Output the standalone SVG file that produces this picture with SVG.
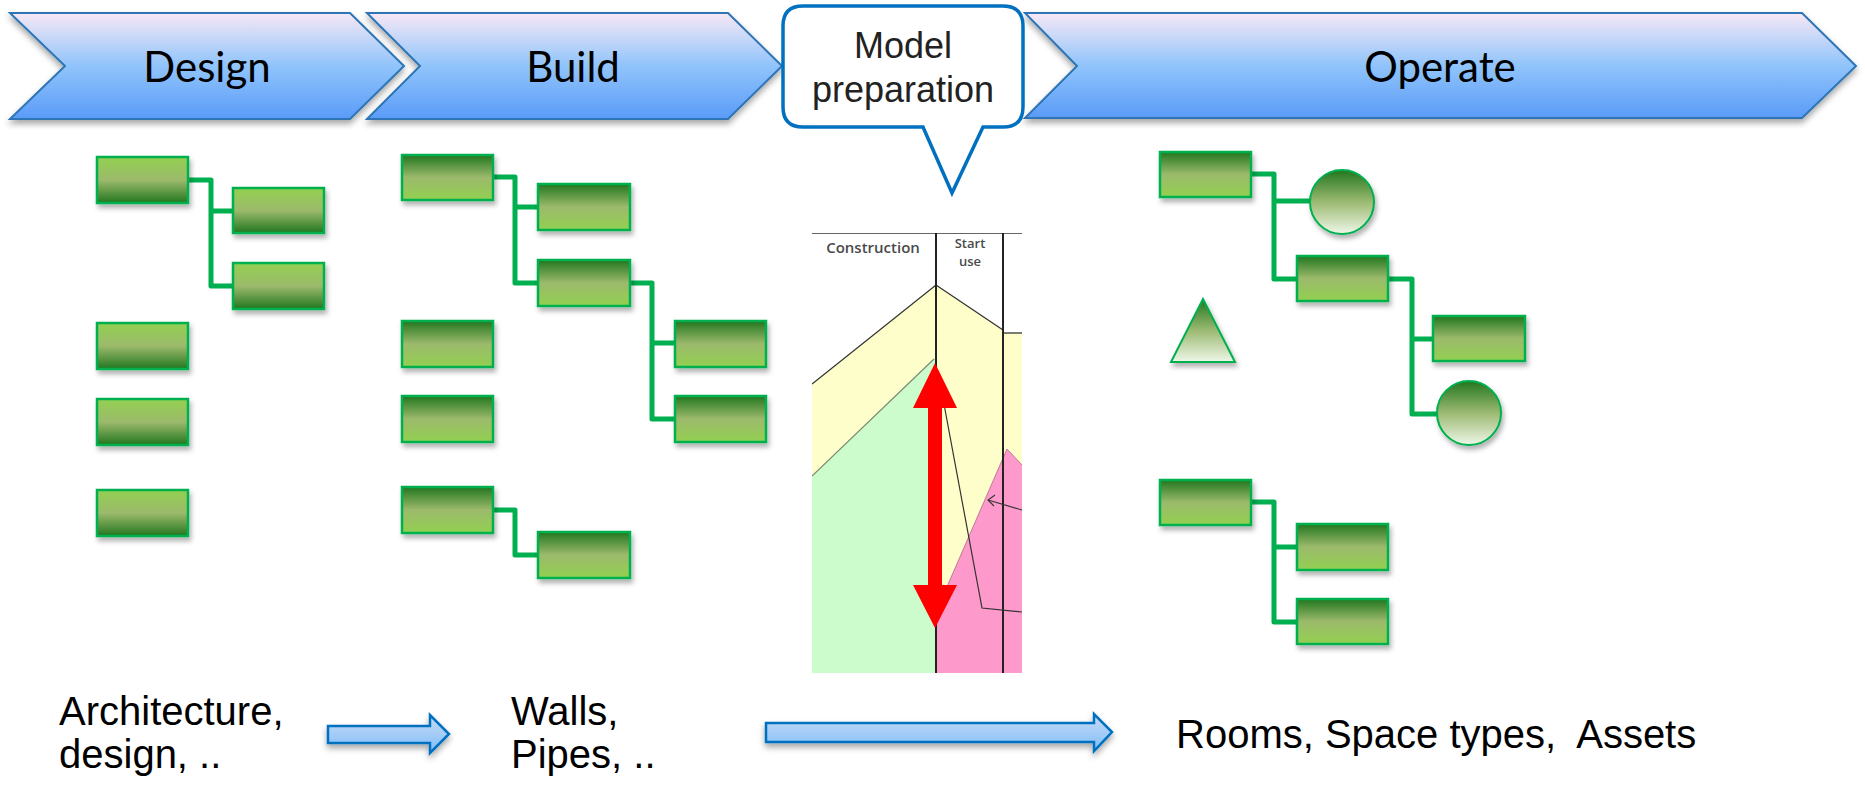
<svg xmlns="http://www.w3.org/2000/svg" width="1865" height="789" viewBox="0 0 1865 789">
<defs>
  <linearGradient id="chev" x1="0" y1="0" x2="0" y2="1">
    <stop offset="0" stop-color="#f7e8f6"/>
    <stop offset="0.5" stop-color="#90c4fb"/>
    <stop offset="1" stop-color="#5a9bf8"/>
  </linearGradient>
  <linearGradient id="arrowFill" x1="0" y1="0" x2="0" y2="1">
    <stop offset="0" stop-color="#c9dcf3"/>
    <stop offset="1" stop-color="#7fbdfb"/>
  </linearGradient>
  <linearGradient id="gUp" x1="0" y1="0" x2="0" y2="1">
    <stop offset="0" stop-color="#92d050"/>
    <stop offset="0.5" stop-color="#9cba6c"/>
    <stop offset="1" stop-color="#22761f"/>
  </linearGradient>
  <linearGradient id="gDown" x1="0" y1="0" x2="0" y2="1">
    <stop offset="0" stop-color="#22761f"/>
    <stop offset="0.5" stop-color="#9cba6c"/>
    <stop offset="1" stop-color="#92d050"/>
  </linearGradient>
  <linearGradient id="gFade" x1="0" y1="0" x2="0" y2="1">
    <stop offset="0" stop-color="#22761f"/>
    <stop offset="0.5" stop-color="#9cba72"/>
    <stop offset="1" stop-color="#eef7e8"/>
  </linearGradient>
  <filter id="shadow" x="-10%" y="-20%" width="120%" height="150%">
    <feDropShadow dx="0" dy="4" stdDeviation="3" flood-color="#000" flood-opacity="0.35"/>
  </filter>
  <filter id="bshadow" x="-10%" y="-20%" width="130%" height="160%">
    <feDropShadow dx="2" dy="4" stdDeviation="2.5" flood-color="#000" flood-opacity="0.3"/>
  </filter>
  <clipPath id="chartClip"><rect x="812" y="233" width="210" height="440"/></clipPath>
</defs>
<style>
  .chev { fill: url(#chev); stroke: #2e75b6; stroke-width: 2; filter: url(#shadow); }
  .chevtxt { font-family: Lato, "Open Sans", sans-serif; font-size: 42px; fill: #000; text-anchor: middle; }
  .bu { fill: url(#gUp); stroke: #00b050; stroke-width: 2.5; filter: url(#bshadow); }
  .bd { fill: url(#gDown); stroke: #00b050; stroke-width: 2.5; filter: url(#bshadow); }
  .bf { fill: url(#gFade); stroke: #00b050; stroke-width: 2; filter: url(#bshadow); }
  .conn { fill: none; stroke: #00b050; stroke-width: 5; stroke-linejoin: round; }
  .btxt { font-family: "Liberation Sans", Arial, sans-serif; font-size: 40px; fill: #000; }
  .flow { fill: url(#arrowFill); stroke: #0070c0; stroke-width: 2.5; filter: url(#shadow); }
  .ctxt { font-family: "Open Sans", "DejaVu Sans", sans-serif; font-size: 15px; font-weight: 600; fill: #4a4a4a; text-anchor: middle; }
  .ctxs { font-family: "Open Sans", "DejaVu Sans", sans-serif; font-size: 13px; font-weight: 600; fill: #4a4a4a; text-anchor: middle; }
</style>

<g id="design-phase">
  <polygon class="chev" points="10,13 350,13 404,66 350,119 10,119 65,66"/>
  <text class="chevtxt" x="207" y="82">Design</text>
</g>
<g id="build-phase">
  <polygon class="chev" points="367,13 728,13 782,66 728,119 367,119 420,66"/>
  <text class="chevtxt" x="573" y="82">Build</text>
</g>
<g id="operate-phase">
  <polygon class="chev" points="1025,13 1802,13 1856,66 1802,118 1025,118 1077,66"/>
  <text class="chevtxt" x="1440" y="82">Operate</text>
</g>
<g id="model-preparation">
  <path d="M803,6 H1003 Q1023,6 1023,26 V107 Q1023,127 1003,127 H983 L952,193 L923,127 H803 Q783,127 783,107 V26 Q783,6 803,6 Z" fill="#fff" stroke="#0070c0" stroke-width="3.5"/>
  <text x="903" y="58" font-family="Liberation Sans, Arial, sans-serif" font-size="36" fill="#222" text-anchor="middle">Model</text>
  <text x="903" y="102" font-family="Liberation Sans, Arial, sans-serif" font-size="36" fill="#222" text-anchor="middle">preparation</text>
</g>

<g id="connectors">
  <path class="conn" d="M188,180 H211 V286 H233 M211,211 H233"/>
  <path class="conn" d="M493,177 H515 V283 H538 M515,207 H538"/>
  <path class="conn" d="M630,283 H652 V419 H675 M652,343 H675"/>
  <path class="conn" d="M493,510 H515 V555 H538"/>
  <path class="conn" d="M1251,174 H1274 V279 H1297 M1274,201 H1310"/>
  <path class="conn" d="M1388,279 H1412 V414 H1437 M1412,339 H1433"/>
  <path class="conn" d="M1251,502 H1274 V622 H1297 M1274,547 H1297"/>
</g>

<g id="design-tree">
  <rect id="d1" class="bu" x="97" y="157" width="91" height="46"/>
  <rect id="d2" class="bu" x="233" y="188" width="91" height="45"/>
  <rect id="d3" class="bu" x="233" y="263" width="91" height="46"/>
  <rect id="d4" class="bu" x="97" y="323" width="91" height="46"/>
  <rect id="d5" class="bu" x="97" y="399" width="91" height="46"/>
  <rect id="d6" class="bu" x="97" y="490" width="91" height="46"/>
</g>

<g id="build-tree">
  <rect id="b1" class="bd" x="402" y="155" width="91" height="45"/>
  <rect id="b2" class="bd" x="538" y="184" width="92" height="46"/>
  <rect id="b3" class="bd" x="538" y="260" width="92" height="46"/>
  <rect id="b4" class="bd" x="675" y="321" width="91" height="46"/>
  <rect id="b5" class="bd" x="675" y="396" width="91" height="46"/>
  <rect id="b6" class="bd" x="402" y="321" width="91" height="46"/>
  <rect id="b7" class="bd" x="402" y="396" width="91" height="46"/>
  <rect id="b8" class="bd" x="402" y="487" width="91" height="46"/>
  <rect id="b9" class="bd" x="538" y="532" width="92" height="46"/>
</g>

<g id="operate-tree">
  <rect id="o1" class="bd" x="1160" y="152" width="91" height="45"/>
  <ellipse id="o2" class="bf" cx="1342" cy="202" rx="32" ry="32"/>
  <rect id="o3" class="bd" x="1297" y="256" width="91" height="45"/>
  <polygon id="o4" class="bf" points="1203,299 1235,362 1171,362"/>
  <rect id="o5" class="bd" x="1433" y="316" width="92" height="45"/>
  <ellipse id="o6" class="bf" cx="1469" cy="413" rx="32" ry="32"/>
  <rect id="o7" class="bd" x="1160" y="480" width="91" height="45"/>
  <rect id="o8" class="bd" x="1297" y="524" width="91" height="46"/>
  <rect id="o9" class="bd" x="1297" y="599" width="91" height="45"/>
</g>

<g id="lifecycle-chart">
  <g clip-path="url(#chartClip)">
    <rect x="812" y="233" width="210" height="440" fill="#fff"/>
    <polygon points="812,384 936,285 1003,330 1003,333 1022,333 1022,673 812,673" fill="#fefecb"/>
    <polygon points="812,476 934,359 936,359 936,673 812,673" fill="#ccfccc"/>
    <polygon points="936,612 1007,449 1022,465 1022,673 936,673" fill="#fd99cb"/>
    <polyline points="812,384 936,285 1003,330" fill="none" stroke="#333" stroke-width="1.3"/>
    <line x1="1003" y1="333" x2="1022" y2="333" stroke="#333" stroke-width="1.3"/>
    <line x1="812" y1="476" x2="934" y2="359" stroke="#7c8a72" stroke-width="1.2"/>
    <polyline points="936,612 1007,449 1022,465" fill="none" stroke="#c07898" stroke-width="1"/>
    <line x1="812" y1="233" x2="1022" y2="233" stroke="#333" stroke-width="1.5"/>
    <line x1="936" y1="233" x2="936" y2="673" stroke="#222" stroke-width="2"/>
    <line x1="1003" y1="233" x2="1003" y2="673" stroke="#222" stroke-width="2"/>
    <polyline points="938,372 982,608 1022,612" fill="none" stroke="#333" stroke-width="1.2"/>
    <line x1="1022" y1="510" x2="988" y2="500" stroke="#333" stroke-width="1.1"/>
    <polyline points="995,495 988,500 994,506" fill="none" stroke="#333" stroke-width="1.1"/>
    <text class="ctxt" x="873" y="253">Construction</text>
    <text class="ctxs" x="970" y="248">Start</text>
    <text class="ctxs" x="970" y="266">use</text>
    <polygon points="935,363 957,408 942,408 942,585 957,585 935,628 913,585 928,585 928,408 913,408" fill="#ff0000"/>
  </g>
</g>

<g id="bottom-flow">
  <text class="btxt" x="59" y="725">Architecture,</text>
  <text class="btxt" x="59" y="768">design, ..</text>
  <polygon class="flow" points="328,726 430,726 430,715 449,734 430,753 430,743 328,743"/>
  <text class="btxt" x="511" y="725">Walls,</text>
  <text class="btxt" x="511" y="768">Pipes, ..</text>
  <polygon class="flow" points="766,723 1094,723 1094,714 1112,732 1094,751 1094,742 766,742"/>
  <text class="btxt" x="1176" y="748" xml:space="preserve">Rooms, Space types,  Assets</text>
</g>
</svg>
